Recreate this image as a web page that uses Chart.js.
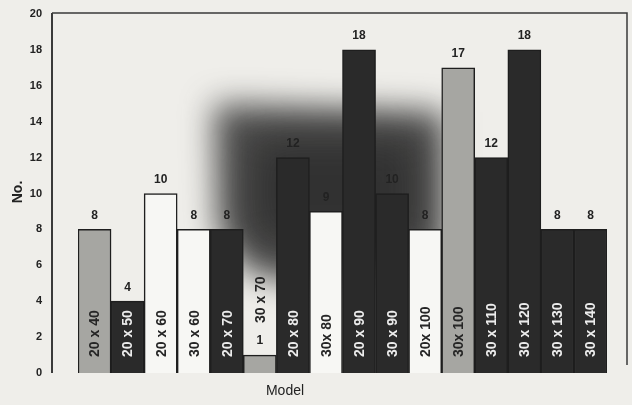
<!DOCTYPE html>
<html>
<head>
<meta charset="utf-8">
<script src="https://cdn.jsdelivr.net/npm/chart.js@4.4.1/dist/chart.umd.min.js"></script>
<style>
  html, body { margin: 0; padding: 0; background: #efeeea; }
  #wrap { width: 632px; height: 405px; }
</style>
</head>
<body>
<div id="wrap"><canvas id="myChart" width="632" height="405"></canvas></div>
<script>
// models and how many of each
const categories = ['20 x 40', '20 x 50', '20 x 60', '30 x 60', '20 x 70', '30 x 70', '20 x 80', '30x 80',
                    '20 x 90', '30 x 90', '20x 100', '30x 100', '30 x 110', '30 x 120', '30 x 130', '30 x 140'];
const counts = [8, 4, 10, 8, 8, 1, 12, 9, 18, 10, 8, 17, 12, 18, 8, 8];
const yTicks = [0, 2, 4, 6, 8, 10, 12, 14, 16, 18, 20];

// shading per bar: d = dark, g = grey, w = white
const shades = ['g', 'd', 'w', 'w', 'd', 'g', 'd', 'w', 'd', 'd', 'w', 'g', 'd', 'd', 'd', 'd'];
const fillFor = { d: '#2a2a2a', g: '#a6a6a2', w: '#f7f7f4' };
const textFor = { d: '#ececec', g: '#262626', w: '#262626' };

const AXIS_GAP = 26;   // y axis line sits left of the first bar
const FRAME_GAP = 20;  // right frame line past the last bar

// dark toner smear behind the middle bars
const smear = {
    id: 'smear',
    beforeDatasetsDraw(chart) {
        const { ctx, chartArea } = chart;
        ctx.save();
        ctx.beginPath();
        ctx.rect(chartArea.left, chartArea.top, chartArea.right - chartArea.left, chartArea.bottom - chartArea.top);
        ctx.clip();
        ctx.filter = 'blur(16px)';
        ctx.fillStyle = 'rgba(50,50,50,0.85)';
        ctx.beginPath();
        ctx.moveTo(214, 104);
        ctx.lineTo(445, 112);
        ctx.lineTo(445, 255);
        ctx.lineTo(300, 285);
        ctx.lineTo(250, 272);
        ctx.lineTo(218, 232);
        ctx.closePath();
        ctx.fill();
        // denser core
        ctx.filter = 'blur(20px)';
        ctx.fillStyle = 'rgba(30,30,30,0.6)';
        ctx.fillRect(250, 135, 170, 110);
        ctx.restore();
    }
};

const frame = {
    id: 'frame',
    beforeDraw(chart) {
        const { ctx, chartArea } = chart;
        const x0 = chartArea.left - AXIS_GAP;
        const x1 = chartArea.right + FRAME_GAP;
        ctx.save();
        ctx.strokeStyle = '#3a3a3a';
        ctx.lineWidth = 1.5;
        ctx.beginPath();
        ctx.moveTo(x0, chartArea.top - 1);
        ctx.lineTo(x1, chartArea.top - 1);
        ctx.lineTo(x1, chartArea.bottom - 8);
        ctx.stroke();
        ctx.lineWidth = 2;
        ctx.beginPath();
        ctx.moveTo(x0, chartArea.top - 1);
        ctx.lineTo(x0, chartArea.bottom);
        ctx.stroke();

        // axis titles
        ctx.fillStyle = '#222';
        ctx.font = 'bold 14px "Liberation Sans", Arial, sans-serif';
        ctx.textAlign = 'center';
        ctx.textBaseline = 'middle';
        ctx.save();
        ctx.translate(18, 192);
        ctx.rotate(-Math.PI / 2);
        ctx.fillText('No.', 0, 0);
        ctx.restore();
        ctx.font = '14px "Liberation Sans", Arial, sans-serif';
        ctx.fillText('Model', 285, 391);
        ctx.restore();
    }
};

// counts above the bars, model names running up inside them
const barText = {
    id: 'barText',
    afterDatasetsDraw(chart) {
        const { ctx } = chart;
        const meta = chart.getDatasetMeta(0);
        ctx.save();
        meta.data.forEach((bar, i) => {
            ctx.fillStyle = '#222';
            ctx.font = 'bold 12px "Liberation Sans", Arial, sans-serif';
            ctx.textAlign = 'center';
            ctx.textBaseline = 'bottom';
            ctx.fillText(String(counts[i]), bar.x, bar.y - 8);

            ctx.font = 'bold 14px "Liberation Sans", Arial, sans-serif';
            const w = ctx.measureText(categories[i]).width;
            const inside = bar.base - bar.y > w + 10;
            ctx.save();
            if (inside) {
                ctx.translate(bar.x, bar.base - 16);
                ctx.fillStyle = textFor[shades[i]];
            } else {
                ctx.translate(bar.x, bar.y - 32);
                ctx.fillStyle = '#262626';
            }
            ctx.rotate(-Math.PI / 2);
            ctx.textAlign = 'left';
            ctx.textBaseline = 'middle';
            ctx.fillText(categories[i], 0, 1);
            ctx.restore();
        });
        ctx.restore();
    }
};

const ctx = document.getElementById('myChart').getContext('2d');
new Chart(ctx, {
    type: 'bar',
    data: {
        labels: categories,
        datasets: [
            {
                label: 'No.',
                data: counts,
                backgroundColor: shades.map(s => fillFor[s]),
                borderColor: '#1e1e1e',
                borderWidth: 1.5,
                barPercentage: 1,
                categoryPercentage: 1
            }
        ]
    },
    options: {
        responsive: false,
        animation: false,
        layout: { padding: { left: 0, top: 14, right: 632 - 607, bottom: 32 } },
        plugins: {
            legend: { display: false },
            tooltip: { enabled: false }
        },
        scales: {
            x: {
                display: false
            },
            y: {
                min: 0,
                max: 20,
                afterBuildTicks: (scale) => { scale.ticks = yTicks.map(v => ({ value: v })); },
                afterFit: (scale) => {
                    scale.width = 78;
                    // the wide tick padding should not push the plot down
                    scale.paddingTop = 6;
                    scale.paddingBottom = 6;
                },
                border: { display: false },
                grid: { display: false, drawTicks: false },
                ticks: {
                    padding: 36,
                    color: '#222',
                    font: { family: '"Liberation Sans", Arial, sans-serif', size: 11, weight: 'bold' }
                }
            }
        }
    },
    plugins: [frame, smear, barText]
});
</script>
</body>
</html>
